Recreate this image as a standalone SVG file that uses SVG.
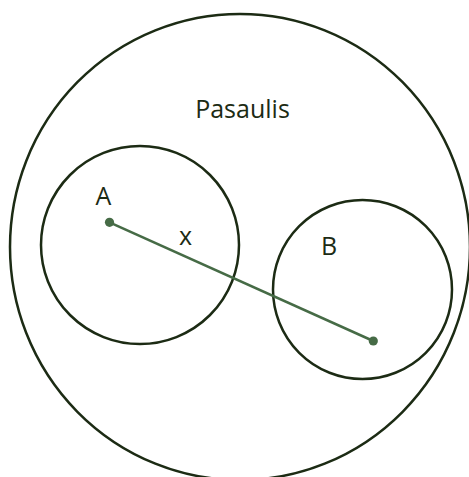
<svg xmlns="http://www.w3.org/2000/svg" width="469" height="477" viewBox="0 0 469 477">
  <style>
    .ring { fill: none; stroke: #1c2b14; stroke-width: 2.5; }
    .lbl { font-family: "Open Sans", "Noto Sans", sans-serif; font-size: 25px; fill: #1c2b14; text-anchor: middle; }
    .seg { stroke: #466b46; stroke-width: 2.5; fill: none; }
    .dot { fill: #466b46; }
  </style>
  <rect width="469" height="477" fill="#ffffff"/>
  <g id="world">
    <ellipse class="ring" cx="240" cy="247" rx="230" ry="233"/>
    <text class="lbl" x="242.5" y="118">Pasaulis</text>
  </g>
  <g id="setA">
    <circle class="ring" cx="140" cy="245" r="99"/>
    <text class="lbl" x="103.5" y="205">A</text>
  </g>
  <g id="setB">
    <circle class="ring" cx="362.5" cy="289.5" r="89.5"/>
    <text class="lbl" x="329" y="255">B</text>
  </g>
  <g id="connectors">
    <line class="seg" x1="109.5" y1="222.3" x2="373.3" y2="341"/>
    <circle class="dot" cx="109.5" cy="222.3" r="4.6"/>
    <circle class="dot" cx="373.3" cy="341" r="4.6"/>
    <text class="lbl" x="185.5" y="245">x</text>
  </g>
</svg>
